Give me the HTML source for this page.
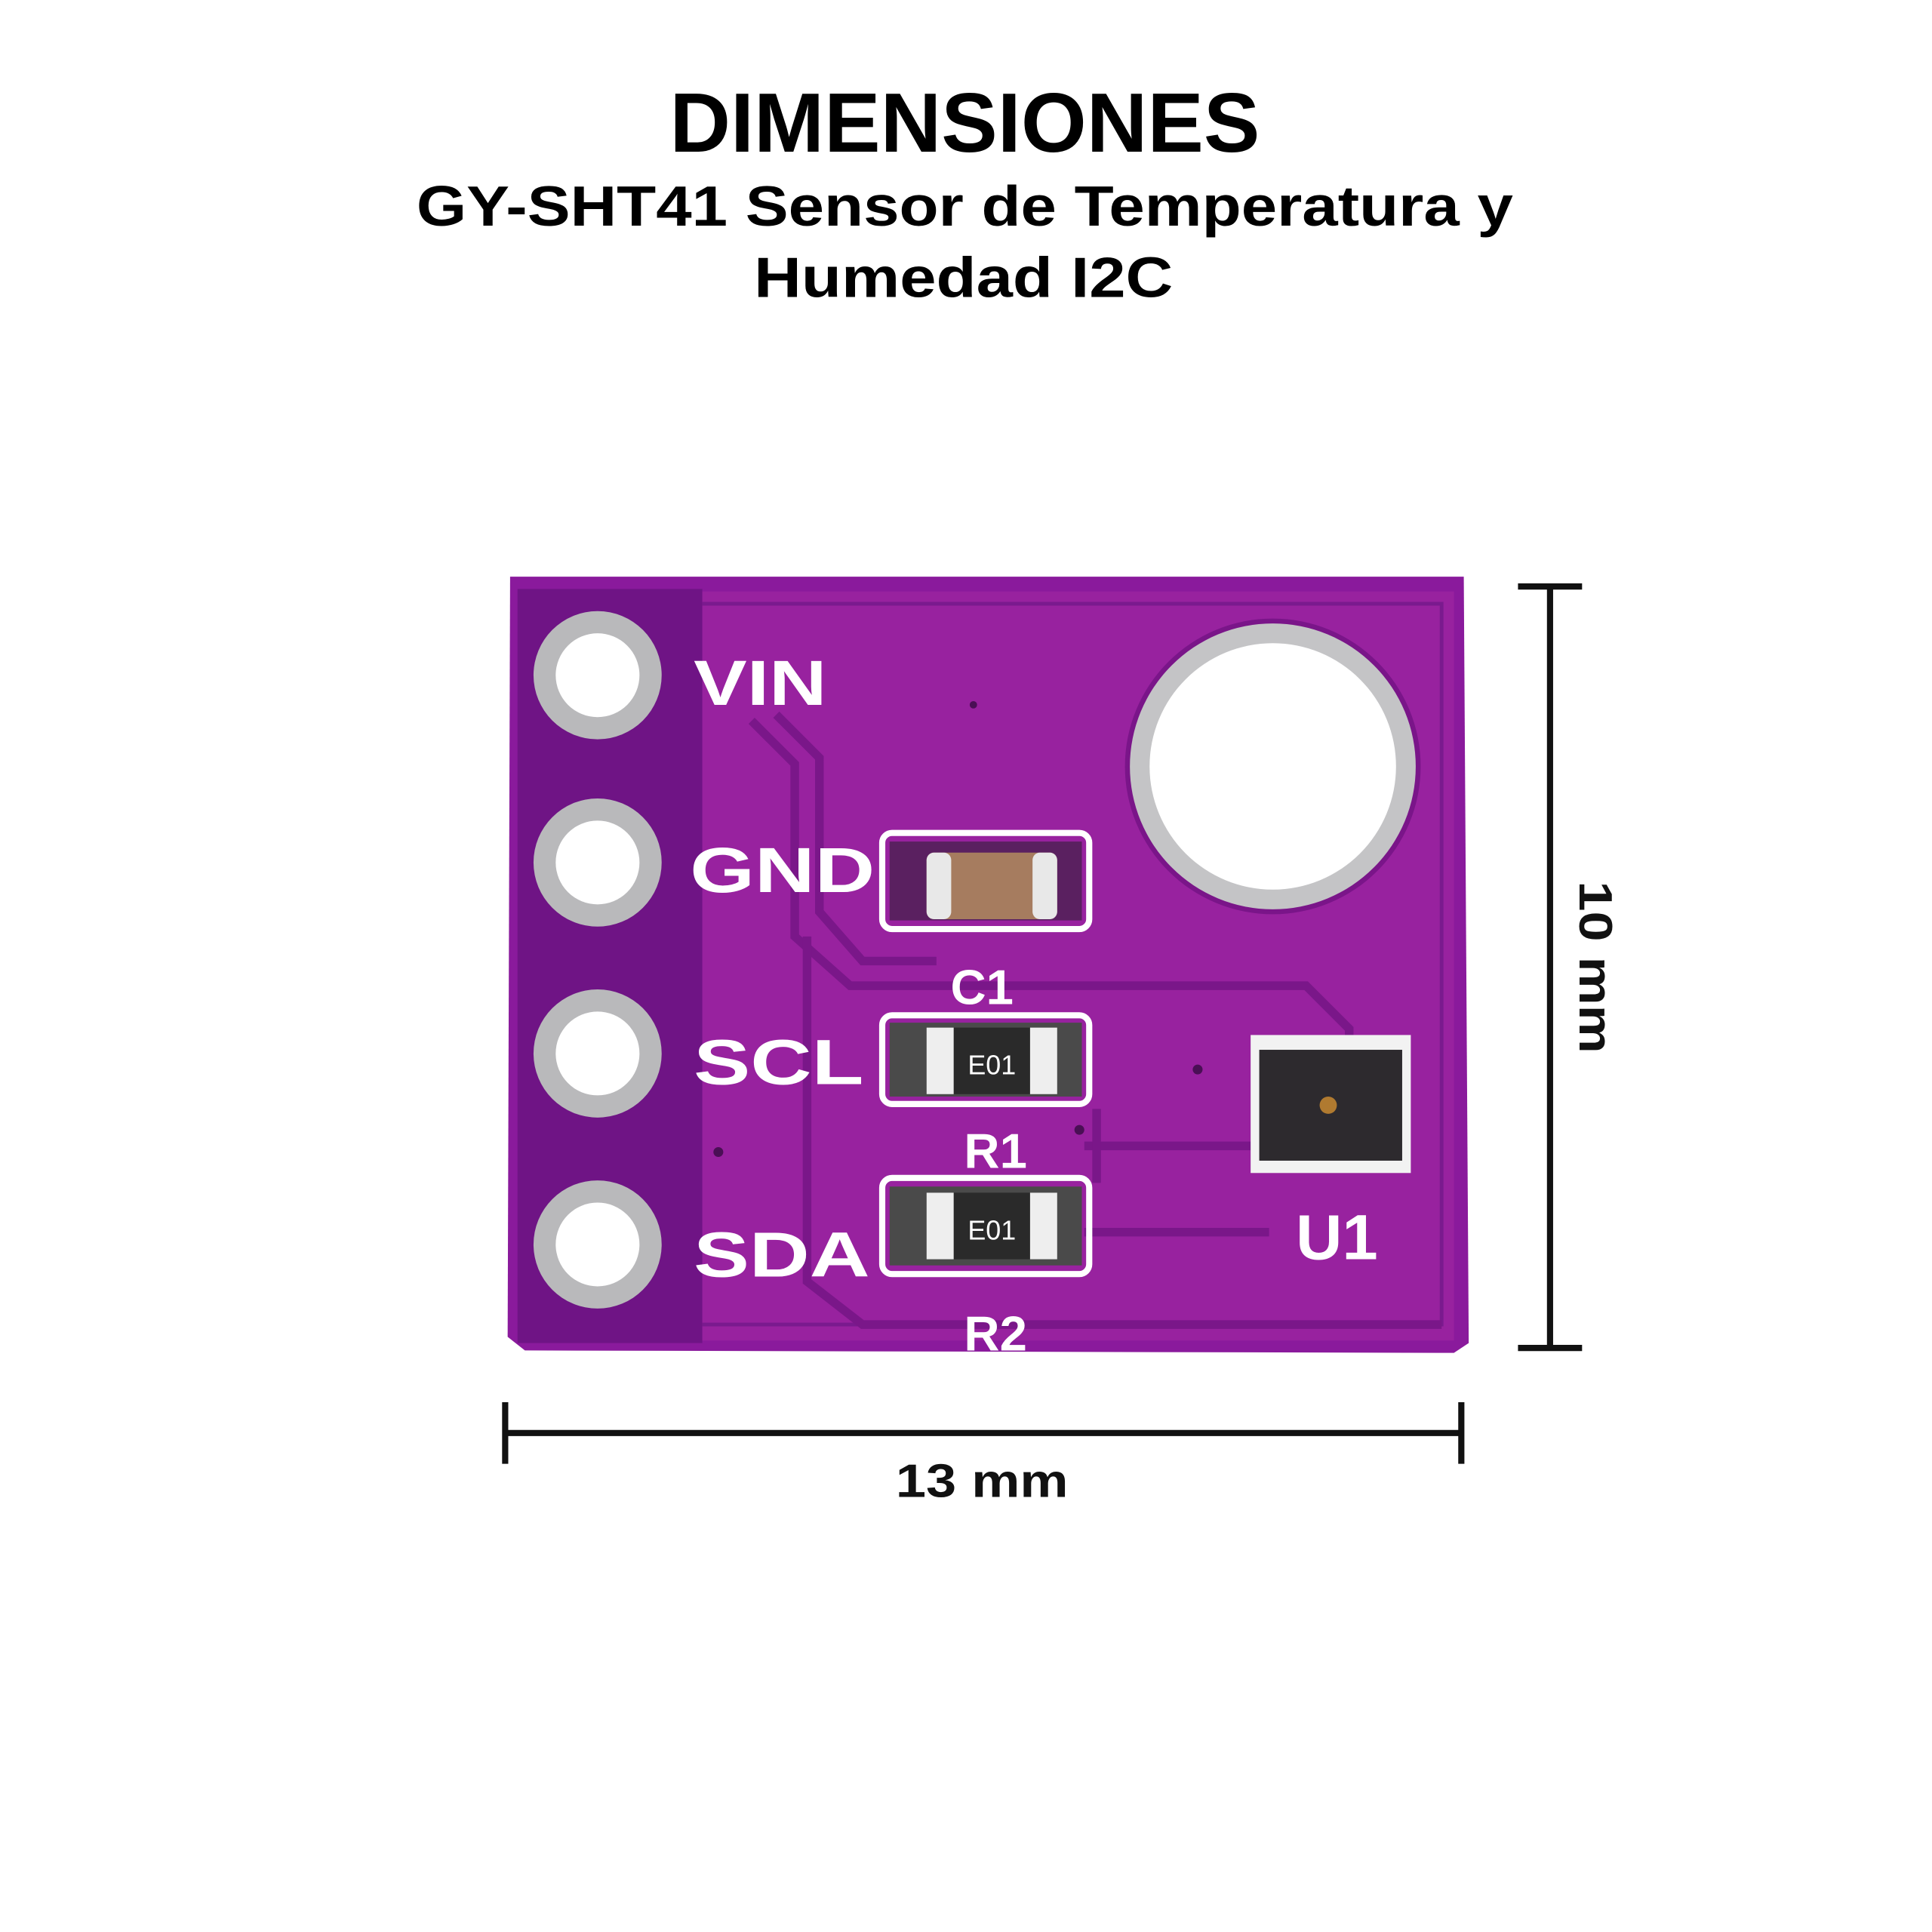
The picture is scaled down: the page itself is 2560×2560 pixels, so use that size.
<!DOCTYPE html>
<html><head><meta charset="utf-8"><style>
html,body{margin:0;padding:0;background:#fff;}
svg{display:block;}
</style></head><body>
<svg width="2560" height="2560" viewBox="0 0 1568 1568" xmlns="http://www.w3.org/2000/svg" font-family="Liberation Sans, sans-serif" font-weight="bold">
<rect width="1568" height="1568" fill="#fff"/>
<text x="783" y="123" text-anchor="middle" font-size="68" textLength="479" lengthAdjust="spacingAndGlyphs">DIMENSIONES</text>
<text x="783" y="183" text-anchor="middle" font-size="46" textLength="890" lengthAdjust="spacingAndGlyphs">GY-SHT41 Sensor de Temperatura y</text>
<text x="782" y="241" text-anchor="middle" font-size="46" textLength="340" lengthAdjust="spacingAndGlyphs">Humedad I2C</text>

<!-- board -->
<path d="M414 468 L1188 468 L1192 1090 L1180 1098 L426 1096 L412 1085 Z" fill="#8a1a9c"/>
<rect x="420" y="478" width="150" height="612" fill="#6f1485"/>
<rect x="570" y="480" width="610" height="608" fill="#98229f"/>
<path d="M570 490 H1170 V1075 H570" fill="none" stroke="#7a1a8e" stroke-width="3"/>
<!-- traces -->
<g fill="none" stroke="#7a1789" stroke-width="7">
<path d="M610 585 L645 620 V760 L690 800 H1060 L1095 835 V850"/>
<path d="M630 580 L665 615 V740 L700 780 H760"/>
<path d="M655 760 V1040 L700 1075 H1170"/>
<path d="M880 930 H1020"/>
<path d="M880 1000 H1030"/>
<path d="M890 900 V960"/>
</g>
<!-- pins -->
<g>
<circle cx="485" cy="548" r="52" fill="#b9b9bb"/><circle cx="485" cy="548" r="34" fill="#fff"/>
<circle cx="485" cy="700" r="52" fill="#b9b9bb"/><circle cx="485" cy="700" r="34" fill="#fff"/>
<circle cx="485" cy="855" r="52" fill="#b9b9bb"/><circle cx="485" cy="855" r="34" fill="#fff"/>
<circle cx="485" cy="1010" r="52" fill="#b9b9bb"/><circle cx="485" cy="1010" r="34" fill="#fff"/>
</g>
<g fill="#fff" font-size="52">
<text x="563" y="572" textLength="108" lengthAdjust="spacingAndGlyphs">VIN</text>
<text x="560" y="724" textLength="150" lengthAdjust="spacingAndGlyphs">GND</text>
<text x="563" y="880" textLength="138" lengthAdjust="spacingAndGlyphs">SCL</text>
<text x="563" y="1036" textLength="143" lengthAdjust="spacingAndGlyphs">SDA</text>
</g>
<!-- big hole -->
<circle cx="1033" cy="622" r="120" fill="#7a1589"/>
<circle cx="1033" cy="622" r="116" fill="#c4c4c6"/>
<circle cx="1033" cy="622" r="100" fill="#fff"/>
<!-- C1 -->
<rect x="716" y="676" width="168" height="78" rx="8" fill="none" stroke="#fff" stroke-width="5"/>
<rect x="722" y="683" width="156" height="64" fill="#5a2060"/>
<rect x="752" y="692" width="106" height="54" rx="6" fill="#a67c5f"/>
<rect x="752" y="692" width="20" height="54" rx="6" fill="#e8e8e8"/>
<rect x="838" y="692" width="20" height="54" rx="6" fill="#e8e8e8"/>
<!-- R1 -->
<rect x="716" y="824" width="168" height="72" rx="8" fill="none" stroke="#fff" stroke-width="5"/>
<rect x="722" y="830" width="156" height="60" fill="#4a4a4a"/>
<rect x="752" y="834" width="106" height="54" fill="#2a2a2a"/>
<rect x="752" y="834" width="22" height="54" fill="#eee"/>
<rect x="836" y="834" width="22" height="54" fill="#eee"/>
<text x="805" y="872" text-anchor="middle" fill="#fff" font-size="22" font-weight="normal">E01</text>
<!-- R2 -->
<rect x="716" y="956" width="168" height="78" rx="8" fill="none" stroke="#fff" stroke-width="5"/>
<rect x="722" y="963" width="156" height="64" fill="#4a4a4a"/>
<rect x="752" y="968" width="106" height="54" fill="#2a2a2a"/>
<rect x="752" y="968" width="22" height="54" fill="#eee"/>
<rect x="836" y="968" width="22" height="54" fill="#eee"/>
<text x="805" y="1006" text-anchor="middle" fill="#fff" font-size="22" font-weight="normal">E01</text>
<g fill="#fff" font-size="40">
<text x="797" y="815" text-anchor="middle">C1</text>
<text x="808" y="948" text-anchor="middle">R1</text>
<text x="808" y="1096" text-anchor="middle">R2</text>
<text x="1085" y="1022" text-anchor="middle" font-size="52">U1</text>
</g>
<!-- U1 -->
<rect x="1015" y="840" width="130" height="112" fill="#f2f2f2"/>
<rect x="1022" y="852" width="116" height="90" fill="#2d2a2e"/>
<circle cx="1078" cy="897" r="7" fill="#b07a30"/>
<circle cx="790" cy="572" r="3" fill="#4a0f55"/>
<circle cx="972" cy="868" r="4" fill="#4a0f55"/>
<circle cx="583" cy="935" r="4" fill="#4a0f55"/>
<circle cx="876" cy="917" r="4" fill="#4a0f55"/>

<!-- dimensions -->
<g stroke="#111" stroke-width="5">
<line x1="1258" y1="476" x2="1258" y2="1094"/>
<line x1="1232" y1="476" x2="1284" y2="476"/>
<line x1="1232" y1="1094" x2="1284" y2="1094"/>
<line x1="410" y1="1163" x2="1186" y2="1163"/>
<line x1="410" y1="1138" x2="410" y2="1188"/>
<line x1="1186" y1="1138" x2="1186" y2="1188"/>
</g>
<text x="797" y="1215" text-anchor="middle" font-size="38" fill="#111" textLength="140" lengthAdjust="spacingAndGlyphs">13 mm</text>
<text transform="translate(1282,785) rotate(90)" text-anchor="middle" font-size="38" fill="#111" textLength="140" lengthAdjust="spacingAndGlyphs">10 mm</text>
</svg>
</body></html>
